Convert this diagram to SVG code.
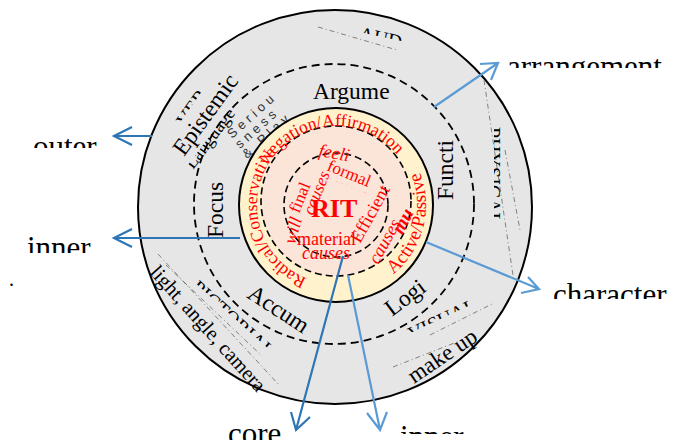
<svg xmlns="http://www.w3.org/2000/svg" width="683" height="440" viewBox="0 0 683 440">
<style>
.t{font-family:"Liberation Serif","Times New Roman",serif;fill:#000}
.r{font-family:"Liberation Serif","Times New Roman",serif;fill:#ff0000}
.g{font-family:"Liberation Sans",Arial,sans-serif;fill:#333}
.thin{stroke:#555;stroke-width:0.7;fill:none;stroke-dasharray:5 3 1 3}
.dk{stroke:#2e75b6;stroke-width:2.2;fill:none}
.lt{stroke:#5b9bd5;stroke-width:2.2;fill:none}
</style>
<defs>
<clipPath id="topHalf"><rect x="-10" y="-40" width="400" height="32"/></clipPath>
<clipPath id="botPart"><rect x="-10" y="-7" width="400" height="30"/></clipPath>
<clipPath id="cOuter"><rect x="0" y="100" width="200" height="48"/></clipPath>
<clipPath id="cInner"><rect x="0" y="200" width="200" height="53"/></clipPath>
<clipPath id="cInner2"><rect x="380" y="400" width="200" height="34"/></clipPath>
<clipPath id="cArr"><rect x="500" y="30" width="183" height="38"/></clipPath>
<clipPath id="cChar"><rect x="540" y="260" width="143" height="39"/></clipPath>
<path id="arcL" d="M336,284 A79,79 0 1,1 336,126 A79,79 0 1,1 336,284"/>
<path id="arcR" d="M336,295 A90,90 0 1,0 336,115 A90,90 0 1,0 336,295"/>
</defs>

<g id="ring-outer">
<circle cx="335" cy="207" r="197" fill="#e6e6e6" stroke="#000" stroke-width="2"/>
<circle cx="334" cy="204" r="140" fill="none" stroke="#000" stroke-width="1.8" stroke-dasharray="8 5"/>
<path class="thin" d="M318,27 L397,50"/>
<path class="thin" d="M484,80 L514,282"/>
<path class="thin" d="M505,150 L520,230"/>
<path class="thin" d="M158,254 L280,386"/>
<path class="thin" d="M166,265 L262,356"/>
<path class="thin" d="M393,367 L462,340"/>
<path class="thin" d="M430,335 L494,303"/>
<text class="t" font-size="20" transform="translate(186,128) rotate(-55)" clip-path="url(#topHalf)">VER</text>
<text class="t" font-size="23.5" transform="translate(184,157) rotate(-54)">Epistemic</text>
<text class="t" font-size="18" transform="translate(193,170) rotate(-53)" clip-path="url(#botPart)">Language</text>
<g class="g" font-size="13" letter-spacing="4">
<text transform="translate(232,139) rotate(-42)">Seriou</text>
<text transform="translate(240,149) rotate(-42)">sness</text>
<text transform="translate(247,159) rotate(-42)">&amp; Play</text>
</g>
<text class="t" font-size="20" transform="translate(358,40) rotate(12)" clip-path="url(#topHalf)">AUD</text>
<text class="t" font-size="20" transform="translate(486,127) rotate(90)" clip-path="url(#topHalf)">PHYSICAL</text>
<text class="t" font-size="23.5" x="313" y="99">Argume</text>
<text class="t" font-size="23.5" transform="translate(453,200) rotate(-90)">Functi</text>
<text class="t" font-size="23.5" transform="translate(223,238) rotate(-90)">Focus</text>
<text class="t" font-size="23.5" transform="translate(246,297) rotate(33)">Accum</text>
<text class="t" font-size="23.5" transform="translate(392,317) rotate(-37)">Logi</text>
<text class="t" font-size="20" transform="translate(190,289) rotate(42)" clip-path="url(#topHalf)">PICTORIAL</text>
<text class="t" font-size="20" transform="translate(412,341) rotate(-25)" clip-path="url(#topHalf)">VISUAL</text>
<text class="t" font-size="20.5" transform="translate(149,273) rotate(48)">light, angle, camera</text>
<text class="t" font-size="23" transform="translate(414,384) rotate(-34)">make up</text>
</g>

<g id="ring-middle">
<circle cx="336" cy="205" r="97" fill="#fff2cc" stroke="#000" stroke-width="2"/>
<circle cx="336" cy="201" r="75" fill="#fbe4d8" stroke="#000" stroke-width="1.6" stroke-dasharray="7 4"/>
<text class="r" font-size="17.5"><textPath href="#arcL" startOffset="30">Radical/Conservative</textPath></text>
<text class="r" font-size="17.5"><textPath href="#arcL" startOffset="165">Negation/Affirmation</textPath></text>
<text class="r" font-size="19"><textPath href="#arcR" startOffset="62">Active/Passive</textPath></text>
</g>

<g id="core">
<circle cx="336" cy="205" r="52" fill="none" stroke="#000" stroke-width="1.6" stroke-dasharray="7 4"/>
<text class="r" font-size="26" font-weight="bold" x="311" y="217">RIT</text>
<text class="r" font-size="18" font-style="italic" transform="translate(318,156) rotate(10)">feeli</text>
<text class="r" font-size="17" transform="translate(326,170) rotate(22)">formal</text>
<text class="r" font-size="17" font-style="italic" transform="translate(322,184) rotate(22)" clip-path="url(#topHalf)">causes</text>
<text class="r" font-size="17" transform="translate(299,214) rotate(-68)">final</text>
<text class="r" font-size="17" font-style="italic" transform="translate(313,216) rotate(-68)">causes</text>
<text class="r" font-size="18" font-style="italic" transform="translate(295,245) rotate(-75)">will</text>
<text class="r" font-size="18" x="297" y="245">material</text>
<text class="r" font-size="18" font-style="italic" x="302" y="259">causes</text>
<text class="r" font-size="18" transform="translate(360,244) rotate(-61)">Efficient</text>
<text class="r" font-size="18" font-style="italic" transform="translate(378,265) rotate(-61)">causes</text>
<text class="r" font-size="19" font-style="italic" font-weight="bold" transform="translate(402,235) rotate(-62)">mu</text>
</g>

<g id="connectors">
<path class="dk" d="M152,136 L114,136 M132,127 L114,136 L132,145"/>
<path class="dk" d="M240,238 L114,238 M132,229 L114,238 L132,247"/>
<path class="dk" d="M343,256 L296,430 M291,412 L296,430 L310,417"/>
<path class="lt" d="M348,275 L380,430 M367,413 L380,430 L387,412"/>
<path class="lt" d="M426,242 L539,289 M528,277 L539,289 L521,293"/>
<path class="lt" d="M434,107 L498,63 M480,64 L498,63 L491,80"/>
</g>

<g id="labels">
<text class="t" font-size="31" x="33" y="157" clip-path="url(#cOuter)">outer</text>
<text class="t" font-size="31" x="27" y="258" clip-path="url(#cInner)">inner</text>
<text class="t" font-size="31" x="228" y="444">core</text>
<text class="t" font-size="31" x="400" y="447" clip-path="url(#cInner2)">inner</text>
<text class="t" font-size="31" x="507" y="77" clip-path="url(#cArr)">arrangement</text>
<text class="t" font-size="31" x="553" y="305" clip-path="url(#cChar)">character</text>
<text class="t" font-size="20" x="9" y="286">.</text>
</g>
</svg>
